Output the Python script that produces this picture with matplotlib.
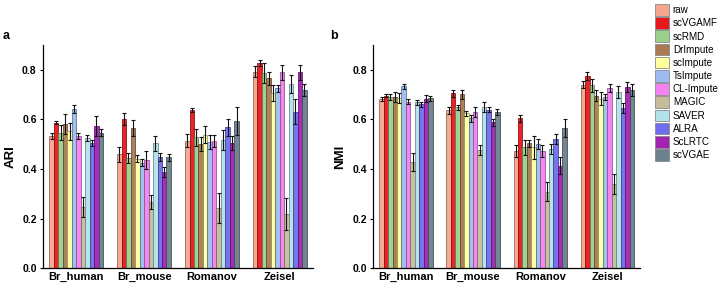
import numpy as np
import matplotlib
matplotlib.use("Agg")
import matplotlib.pyplot as plt
from matplotlib.patches import Patch
from matplotlib.colors import to_rgb

plt.rcParams['font.family'] = ['Liberation Sans', 'DejaVu Sans']

datasets = ["Br_human", "Br_mouse", "Romanov", "Zeisel"]
methods = ["raw", "scVGAMF", "scRMD", "DrImpute", "scImpute", "TsImpute",
           "CL-Impute", "MAGIC", "SAVER", "ALRA", "ScLRTC", "scVGAE"]
colors = ["#F5A68E", "#E8181C", "#9BD08F", "#A97A52", "#FFFF9E", "#9DBDF0",
          "#F383F0", "#C6BC9C", "#B3E3E8", "#6E6EEE", "#A222B2", "#6C808E"]

# ARI (rows = datasets, cols = methods)
ari = np.array([
    [0.533, 0.587, 0.547, 0.582, 0.552, 0.642, 0.533, 0.248, 0.525, 0.505, 0.574, 0.547],
    [0.459, 0.601, 0.446, 0.564, 0.442, 0.426, 0.436, 0.268, 0.504, 0.449, 0.387, 0.447],
    [0.514, 0.638, 0.528, 0.501, 0.539, 0.509, 0.512, 0.241, 0.517, 0.568, 0.505, 0.594],
    [0.793, 0.829, 0.787, 0.766, 0.706, 0.726, 0.790, 0.218, 0.743, 0.632, 0.790, 0.719],
])
ari_err = np.array([
    [0.013, 0.005, 0.030, 0.040, 0.035, 0.015, 0.013, 0.040, 0.013, 0.013, 0.040, 0.015],
    [0.030, 0.025, 0.020, 0.032, 0.015, 0.015, 0.035, 0.028, 0.030, 0.015, 0.020, 0.015],
    [0.027, 0.008, 0.035, 0.030, 0.035, 0.030, 0.025, 0.060, 0.040, 0.035, 0.030, 0.058],
    [0.022, 0.012, 0.040, 0.025, 0.032, 0.013, 0.030, 0.065, 0.037, 0.050, 0.030, 0.025],
])

# NMI
nmi = np.array([
    [0.683, 0.696, 0.691, 0.692, 0.686, 0.734, 0.672, 0.428, 0.670, 0.661, 0.684, 0.686],
    [0.637, 0.706, 0.649, 0.702, 0.625, 0.605, 0.629, 0.476, 0.649, 0.640, 0.588, 0.631],
    [0.473, 0.604, 0.487, 0.503, 0.487, 0.502, 0.473, 0.309, 0.480, 0.522, 0.414, 0.565],
    [0.741, 0.776, 0.738, 0.696, 0.684, 0.691, 0.727, 0.339, 0.710, 0.647, 0.730, 0.720],
])
nmi_err = np.array([
    [0.008, 0.005, 0.013, 0.020, 0.020, 0.010, 0.010, 0.035, 0.010, 0.010, 0.015, 0.010],
    [0.013, 0.015, 0.010, 0.018, 0.010, 0.015, 0.020, 0.020, 0.020, 0.010, 0.015, 0.012],
    [0.025, 0.013, 0.030, 0.015, 0.045, 0.020, 0.025, 0.040, 0.020, 0.020, 0.035, 0.035],
    [0.013, 0.015, 0.025, 0.022, 0.025, 0.013, 0.018, 0.040, 0.025, 0.020, 0.020, 0.025],
])


def darker(c, f=0.6):
    r, g, b = to_rgb(c)
    return (r * f, g * f, b * f)


fig = plt.figure(figsize=(7.25, 2.86), dpi=100)
ax_a = fig.add_axes([0.0593, 0.0629, 0.3724, 0.779])
ax_b = fig.add_axes([0.5145, 0.0629, 0.3686, 0.779])

w = 0.066
x = np.arange(len(datasets))

for ax, vals, errs, lab in [(ax_a, ari, ari_err, "ARI"), (ax_b, nmi, nmi_err, "NMI")]:
    for j, m in enumerate(methods):
        pos = x + (j - 5.5) * w
        ax.bar(pos, vals[:, j], width=w, color=colors[j], edgecolor=darker(colors[j]),
               linewidth=0.6, alpha=0.95)
        ax.errorbar(pos, vals[:, j], yerr=errs[:, j], fmt='none', ecolor='#111111',
                    elinewidth=0.8, capsize=1.5, capthick=0.8)
    ax.set_xlim(-0.49, 3.49)
    ax.set_ylim(0, 0.9)
    ax.set_yticks([0.0, 0.2, 0.4, 0.6, 0.8])
    ax.set_yticklabels(["0.0", "0.2", "0.4", "0.6", "0.8"], fontsize=7.5, fontweight='bold')
    ax.set_xticks(x)
    ax.set_xticklabels(datasets, fontsize=8, fontweight='bold')
    ax.tick_params(axis='x', length=0, pad=3)
    ax.tick_params(axis='y', length=2.5, width=0.8, pad=2)
    ax.spines['top'].set_visible(False)
    ax.spines['right'].set_visible(False)
    ax.spines['left'].set_linewidth(0.9)
    ax.spines['bottom'].set_linewidth(0.9)
    ax.set_ylabel(lab, fontsize=9.5, fontweight='bold', labelpad=4)

fig.text(0.004, 0.875, "a", fontsize=9, fontweight='bold', va='center')
fig.text(0.455, 0.875, "b", fontsize=9, fontweight='bold', va='center')

handles = [Patch(facecolor=c, edgecolor='#888888', linewidth=0.6) for c in colors]
fig.legend(handles, methods, loc='upper left', bbox_to_anchor=(655 / 725, 1 - 4 / 286),
           frameon=False, fontsize=7.1, handlelength=1.4, handleheight=1.45,
           labelspacing=0.15, handletextpad=0.4, borderpad=0, borderaxespad=0)

fig.savefig("out.png", dpi=100)
